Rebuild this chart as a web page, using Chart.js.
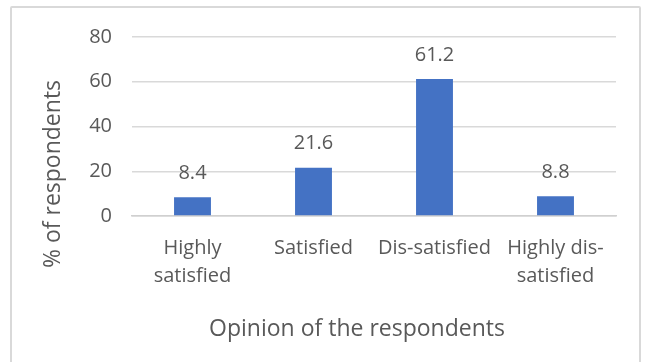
<!DOCTYPE html>
<html>
<head>
<meta charset="utf-8">
<script src="https://cdn.jsdelivr.net/npm/chart.js@4/dist/chart.umd.min.js"></script>
<style>
  html, body { margin: 0; padding: 0; background: #ffffff; }
  body { width: 646px; height: 362px; position: relative; overflow: hidden; }
  #frame {
    position: absolute; left: 10px; top: 6px; width: 631px; height: 380px;
    border: 2px solid #d9d9d9; box-sizing: border-box; border-radius: 2px;
  }
  #wrap { position: absolute; left: 0; top: 0; width: 646px; height: 362px; }
</style>
</head>
<body>
<div id="frame"></div>
<div id="wrap"><canvas id="chart" width="646" height="362"></canvas></div>
<script>
// Survey: opinion of the respondents
const categories = [["Highly", "satisfied"], "Satisfied", "Dis-satisfied", ["Highly dis-", "satisfied"]];
const percentages = [8.4, 21.6, 61.2, 8.8];
const yTicks = [0, 20, 40, 60, 80];
const yTitle = "% of respondents";
const xTitle = "Opinion of the respondents";

const FONT = "'Open Sans', 'Noto Sans', sans-serif";
const TEXT = "#595959";

// value labels above each bar
const barValueLabels = {
  id: "barValueLabels",
  afterDatasetsDraw(chart) {
    const ctx = chart.ctx;
    const meta = chart.getDatasetMeta(0);
    ctx.save();
    ctx.font = "20px " + FONT;
    ctx.fillStyle = TEXT;
    ctx.textAlign = "center";
    ctx.textBaseline = "middle";
    meta.data.forEach((bar, i) => {
      ctx.fillText(percentages[i].toFixed(1), bar.x, bar.y - 24);
    });
    ctx.restore();
  }
};

// axis titles
const axisTitles = {
  id: "axisTitles",
  afterDraw(chart) {
    const ctx = chart.ctx;
    ctx.save();
    ctx.font = "23px " + FONT;
    ctx.fillStyle = TEXT;
    ctx.textAlign = "center";
    ctx.textBaseline = "middle";
    ctx.fillText(xTitle, 357, 329);
    ctx.translate(53, 174);
    ctx.rotate(-Math.PI / 2);
    ctx.fillText(yTitle, 0, 0);
    ctx.restore();
  }
};

new Chart(document.getElementById("chart"), {
  type: "bar",
  data: {
    labels: categories,
    datasets: [{
      data: percentages,
      backgroundColor: "#4472C4",
      borderWidth: 0,
      categoryPercentage: 1,
      barPercentage: 0.305
    }]
  },
  options: {
    responsive: false,
    animation: false,
    devicePixelRatio: 1,
    layout: { padding: { top: 37, right: 30, left: 0, bottom: 0 } },
    plugins: { legend: { display: false }, tooltip: { enabled: false } },
    scales: {
      y: {
        min: 0,
        max: 80,
        afterBuildTicks(scale) { scale.ticks = yTicks.map(v => ({ value: v })); },
        afterFit(scale) { scale.width = 132; },
        border: { display: false },
        grid: { color: "#d9d9d9", lineWidth: 1.5, drawTicks: false },
        ticks: { padding: 20, color: TEXT, font: { family: FONT, size: 20 } }
      },
      x: {
        afterFit(scale) { scale.height = 146; },
        border: { display: true, color: "#d0d0d0", width: 1.5 },
        grid: { display: false, drawTicks: false },
        ticks: {
          padding: 18, color: TEXT, maxRotation: 0, autoSkip: false,
          font: { family: FONT, size: 20, lineHeight: 1.4 }
        }
      }
    }
  },
  plugins: [barValueLabels, axisTitles]
});
</script>
</body>
</html>
